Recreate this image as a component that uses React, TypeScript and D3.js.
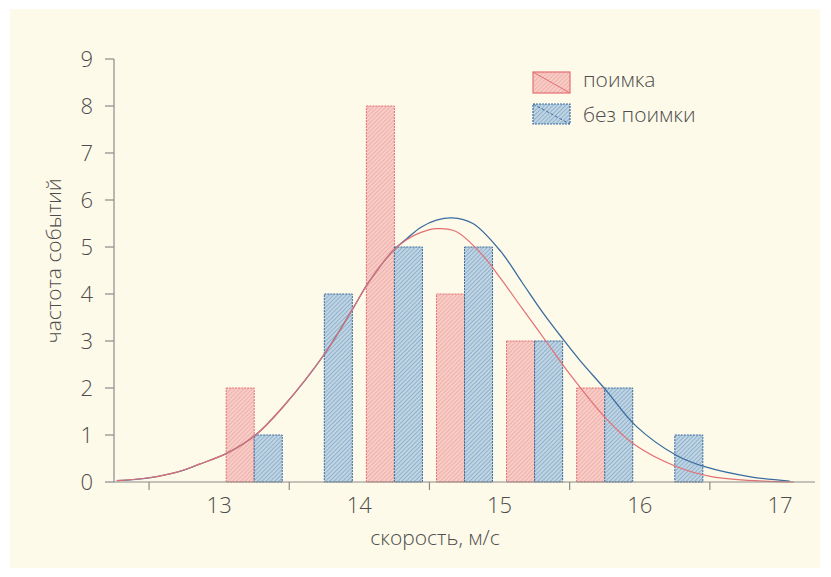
import React from "react";
import * as d3 from "d3";

// Histogram bins (bin centres, m/s) and event counts
const binCenters = [13.25, 13.75, 14.25, 14.75, 15.25, 15.75, 16.25];
const catchCounts = [2, 0, 8, 4, 3, 2, 0];
const noCatchCounts = [1, 4, 5, 5, 3, 2, 1];

// Fitted distribution curves, [speed, frequency]
const catchCurve: [number, number][] = [
  [12.27, 0.03], [12.5, 0.09], [12.7, 0.21], [12.86, 0.38], [13.06, 0.62],
  [13.26, 1.0], [13.45, 1.58], [13.76, 2.76], [13.96, 3.72], [14.06, 4.22],
  [14.24, 4.92], [14.34, 5.16], [14.44, 5.31], [14.55, 5.39], [14.69, 5.33],
  [14.88, 4.82], [15.01, 4.32], [15.16, 3.7], [15.33, 3.0], [15.5, 2.3],
  [15.76, 1.35], [15.97, 0.78], [16.26, 0.33], [16.52, 0.11], [16.88, 0.02],
  [17.1, 0.0],
];
const noCatchCurve: [number, number][] = [
  [12.27, 0.03], [12.5, 0.09], [12.7, 0.21], [12.86, 0.38], [13.06, 0.62],
  [13.26, 1.0], [13.45, 1.58], [13.76, 2.76], [13.96, 3.72], [14.06, 4.22],
  [14.24, 4.92], [14.34, 5.18], [14.44, 5.42], [14.55, 5.57], [14.66, 5.62],
  [14.81, 5.5], [15.01, 4.9], [15.16, 4.25], [15.31, 3.6], [15.45, 3.05],
  [15.57, 2.6], [15.76, 1.95], [15.97, 1.2], [16.26, 0.57], [16.47, 0.32],
  [16.79, 0.11], [17.07, 0.02],
];

const xTickLabels = [13, 14, 15, 16, 17];
const xTickMarks = [12.5, 13.5, 14.5, 15.5, 16.5];
const yTicks = [0, 1, 2, 3, 4, 5, 6, 7, 8, 9];

const seriesNames = ["поимка", "без поимки"];
const xTitle = "скорость, м/с";
const yTitle = "частота событий";

const W = 831;
const H = 577;
const FONT = "'Open Sans', 'Noto Sans', sans-serif";
const TEXT = "#4d4d4d";
const AXIS = "#8a8a8a";
const RED_LINE = "#e46f73";
const BLUE_LINE = "#3a6c9f";

export default function App() {
  const x = d3.scaleLinear().domain([12.25, 17.25]).range([114, 815]);
  const y = d3.scaleLinear().domain([0, 9]).range([482, 59]);
  const barW = x(12.45) - x(12.25);

  const line = d3
    .line<[number, number]>()
    .x((d) => x(d[0]))
    .y((d) => y(d[1]))
    .curve(d3.curveCatmullRom.alpha(0.5));

  return (
    <svg
      width={W}
      height={H}
      style={{ position: "absolute", left: 0, top: 0 }}
      fontFamily={FONT}
    >
      <defs>
        <pattern id="hatchRed" patternUnits="userSpaceOnUse" width={3} height={3} patternTransform="rotate(45)">
          <rect width={3} height={3} fill="#f8cdc7" />
          <line x1={0} y1={0} x2={0} y2={3} stroke="#e99c96" strokeWidth={1.2} />
        </pattern>
        <pattern id="hatchBlue" patternUnits="userSpaceOnUse" width={3} height={3} patternTransform="rotate(45)">
          <rect width={3} height={3} fill="#bfd5e4" />
          <line x1={0} y1={0} x2={0} y2={3} stroke="#7399bb" strokeWidth={1.2} />
        </pattern>
      </defs>

      <rect x={0} y={0} width={W} height={H} fill="#ffffff" />
      <rect x={10} y={9} width={810} height={559} fill="#fefae9" />

      {/* bars */}
      {binCenters.map((c, i) =>
        catchCounts[i] > 0 ? (
          <rect
            key={"r" + i}
            x={x(c) - barW}
            y={y(catchCounts[i])}
            width={barW}
            height={y(0) - y(catchCounts[i])}
            fill="url(#hatchRed)"
            stroke={RED_LINE}
            strokeWidth={1}
            strokeDasharray="2 1"
          />
        ) : null
      )}
      {binCenters.map((c, i) =>
        noCatchCounts[i] > 0 ? (
          <rect
            key={"b" + i}
            x={x(c)}
            y={y(noCatchCounts[i])}
            width={barW}
            height={y(0) - y(noCatchCounts[i])}
            fill="url(#hatchBlue)"
            stroke={BLUE_LINE}
            strokeWidth={1}
            strokeDasharray="2 1"
          />
        ) : null
      )}

      {/* fitted curves */}
      <path d={line(noCatchCurve) || ""} fill="none" stroke={BLUE_LINE} strokeWidth={1.3} />
      <path d={line(catchCurve) || ""} fill="none" stroke={RED_LINE} strokeWidth={1.2} />

      {/* y axis */}
      <line x1={x(12.25)} x2={x(12.25)} y1={y(9)} y2={y(0)} stroke={AXIS} strokeWidth={1.2} />
      {yTicks.map((t) => (
        <g key={"yt" + t}>
          <line x1={x(12.25) - 9} x2={x(12.25)} y1={y(t)} y2={y(t)} stroke={AXIS} strokeWidth={1.2} />
          <text x={93} y={y(t)} dy="0.36em" textAnchor="end" fontSize={22} fontWeight={300} fill={TEXT}>
            {t}
          </text>
        </g>
      ))}

      {/* x axis */}
      <line x1={x(12.25)} x2={x(17.25)} y1={y(0)} y2={y(0)} stroke={AXIS} strokeWidth={1.2} />
      {xTickMarks.map((t) => (
        <line key={"xm" + t} x1={x(t)} x2={x(t)} y1={y(0)} y2={y(0) + 8} stroke={AXIS} strokeWidth={1.2} />
      ))}
      {xTickLabels.map((t) => (
        <text key={"xl" + t} x={x(t)} y={y(0) + 31} textAnchor="middle" fontSize={22} fontWeight={300} fill={TEXT}>
          {t}
        </text>
      ))}

      {/* axis titles */}
      <text x={435} y={545} textAnchor="middle" fontSize={21} fontWeight={300} fill={TEXT}>
        {xTitle}
      </text>
      <text
        transform={`translate(61, 261) rotate(-90)`}
        textAnchor="middle"
        fontSize={21}
        fontWeight={300}
        fill={TEXT}
      >
        {yTitle}
      </text>

      {/* legend */}
      <g>
        <rect x={533} y={72} width={37} height={21} fill="url(#hatchRed)" stroke={RED_LINE} strokeWidth={1.2} />
        <line x1={533} y1={72} x2={570} y2={93} stroke={RED_LINE} strokeWidth={1} />
        <text x={583} y={87} fontSize={21} fontWeight={300} fill={TEXT}>
          {seriesNames[0]}
        </text>
        <rect x={533} y={104} width={37} height={20} fill="url(#hatchBlue)" stroke={BLUE_LINE} strokeWidth={1.2} strokeDasharray="2 1" />
        <line x1={533} y1={104} x2={570} y2={124} stroke={BLUE_LINE} strokeWidth={1} strokeDasharray="3 2" />
        <text x={583} y={122} fontSize={21} fontWeight={300} fill={TEXT}>
          {seriesNames[1]}
        </text>
      </g>
    </svg>
  );
}
